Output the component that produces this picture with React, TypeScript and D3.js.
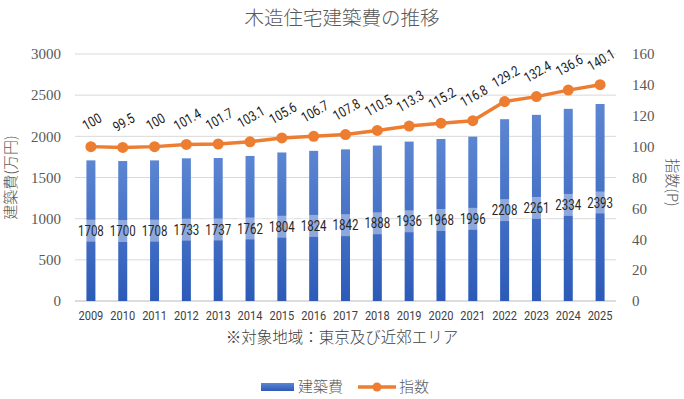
import * as d3 from "d3";

const years = ["2009","2010","2011","2012","2013","2014","2015","2016","2017","2018","2019","2020","2021","2022","2023","2024","2025"];
const costs = [1708,1700,1708,1733,1737,1762,1804,1824,1842,1888,1936,1968,1996,2208,2261,2334,2393];
const indexes = [100,99.5,100,101.4,101.7,103.1,105.6,106.7,107.8,110.5,113.3,115.2,116.8,129.2,132.4,136.6,140.1];
const leftTicks = [0,500,1000,1500,2000,2500,3000];
const rightTicks = [0,20,40,60,80,100,120,140,160];

const W = 684;
const H = 399;
const left = 75;
const right = 616;
const top = 54;
const bottom = 301;

const serif = "Liberation Serif";
const narrow = "Roboto";
const jp = "Noto Sans CJK JP";

export default function App() {
  const x = d3.scaleBand<string>().domain(years).range([left, right]);
  const yL = d3.scaleLinear().domain([0, 3000]).range([bottom, top]);
  const yR = d3.scaleLinear().domain([0, 160]).range([bottom, top]);
  const cx = (y: string) => (x(y) ?? 0) + x.bandwidth() / 2;
  const barW = 9;

  const line = d3
    .line<number>()
    .x((_, i) => cx(years[i]))
    .y((d) => yR(d));

  return (
    <svg width={W} height={H} style={{ position: "absolute", left: 0, top: 0 }}>
      <defs>
        <linearGradient id="barGrad" x1="0" y1="0" x2="0" y2="1">
          <stop offset="0" stopColor="#5C86D2" />
          <stop offset="1" stopColor="#2C5AB8" />
        </linearGradient>
      </defs>
      <rect width={W} height={H} fill="#fff" />
      <text x={W / 2} y={25} textAnchor="middle" fontFamily={jp} fontWeight={300} fontSize={19.5} fill="#595959">
        木造住宅建築費の推移
      </text>

      {/* grid */}
      {leftTicks.map((t) => (
        <line key={t} x1={left} x2={right} y1={yL(t)} y2={yL(t)} stroke={t === 0 ? "#d0d0d0" : "#d9d9d9"} strokeWidth={t === 0 ? 1.5 : 1} />
      ))}

      {/* axis ticks */}
      {leftTicks.map((t) => (
        <text key={t} x={61} y={yL(t)} dy="0.35em" textAnchor="end" fontFamily={serif} fontSize={15} fill="#595959">
          {t}
        </text>
      ))}
      {rightTicks.map((t) => (
        <text key={t} x={632} y={yR(t)} dy="0.35em" textAnchor="start" fontFamily={serif} fontSize={15} fill="#595959">
          {t}
        </text>
      ))}

      <text transform={`translate(11,${(top + bottom) / 2}) rotate(-90)`} textAnchor="middle" dy="0.35em" fontFamily={jp} fontWeight={300} fontSize={15} fill="#595959">
        建築費(万円)
      </text>
      <text transform={`translate(672,${(top + bottom) / 2 + 5}) rotate(90)`} textAnchor="middle" dy="0.35em" fontFamily={jp} fontWeight={300} fontSize={15} fill="#595959">
        指数(P)
      </text>

      {/* bars */}
      {costs.map((v, i) => (
        <rect key={years[i]} x={cx(years[i]) - barW / 2} y={yL(v)} width={barW} height={bottom - yL(v)} fill="url(#barGrad)" />
      ))}

      {/* bar labels */}
      {costs.map((v, i) => {
        const ly = yL(v / 2);
        return (
          <g key={years[i]}>
            <rect x={cx(years[i]) - 12.5} y={ly - 11} width={25} height={22} fill="#fff" opacity={0.4} />
            <text transform={`translate(${cx(years[i])},${ly}) scale(0.82,1)`} dy="0.36em" textAnchor="middle" fontFamily={narrow} fontSize={14} fill="#262626">
              {v}
            </text>
          </g>
        );
      })}

      {/* line */}
      <path d={line(indexes) ?? ""} fill="none" stroke="#ED7D31" strokeWidth={3.5} strokeLinejoin="round" />
      {indexes.map((v, i) => (
        <circle key={years[i]} cx={cx(years[i])} cy={yR(v)} r={5.5} fill="#ED7D31" />
      ))}
      {indexes.map((v, i) => (
        <text
          key={years[i]}
          transform={`translate(${cx(years[i]) + 1},${yR(v) - 25}) rotate(-30) scale(0.82,1)`}
          textAnchor="middle"
          dy="0.35em"
          fontFamily={narrow}
          fontSize={14}
          fill="#1a1a1a"
        >
          {v}
        </text>
      ))}

      {/* x labels */}
      {years.map((y) => (
        <text key={y} transform={`translate(${cx(y)},320) scale(0.82,1)`} textAnchor="middle" fontFamily={narrow} fontSize={13.5} fill="#404040">
          {y}
        </text>
      ))}

      <text x={W / 2} y={343} textAnchor="middle" fontFamily={jp} fontWeight={300} fontSize={15.5} fill="#404040">
        ※対象地域：東京及び近郊エリア
      </text>

      {/* legend */}
      <rect x={261} y={383} width={33} height={8} fill="url(#barGrad)" />
      <text x={298} y={387} dy="0.35em" fontFamily={jp} fontWeight={300} fontSize={15} fill="#595959">
        建築費
      </text>
      <line x1={358} x2={396} y1={387} y2={387} stroke="#ED7D31" strokeWidth={3.5} />
      <circle cx={377} cy={387} r={4.5} fill="#ED7D31" />
      <text x={399} y={387} dy="0.35em" fontFamily={jp} fontWeight={300} fontSize={15} fill="#595959">
        指数
      </text>
    </svg>
  );
}
